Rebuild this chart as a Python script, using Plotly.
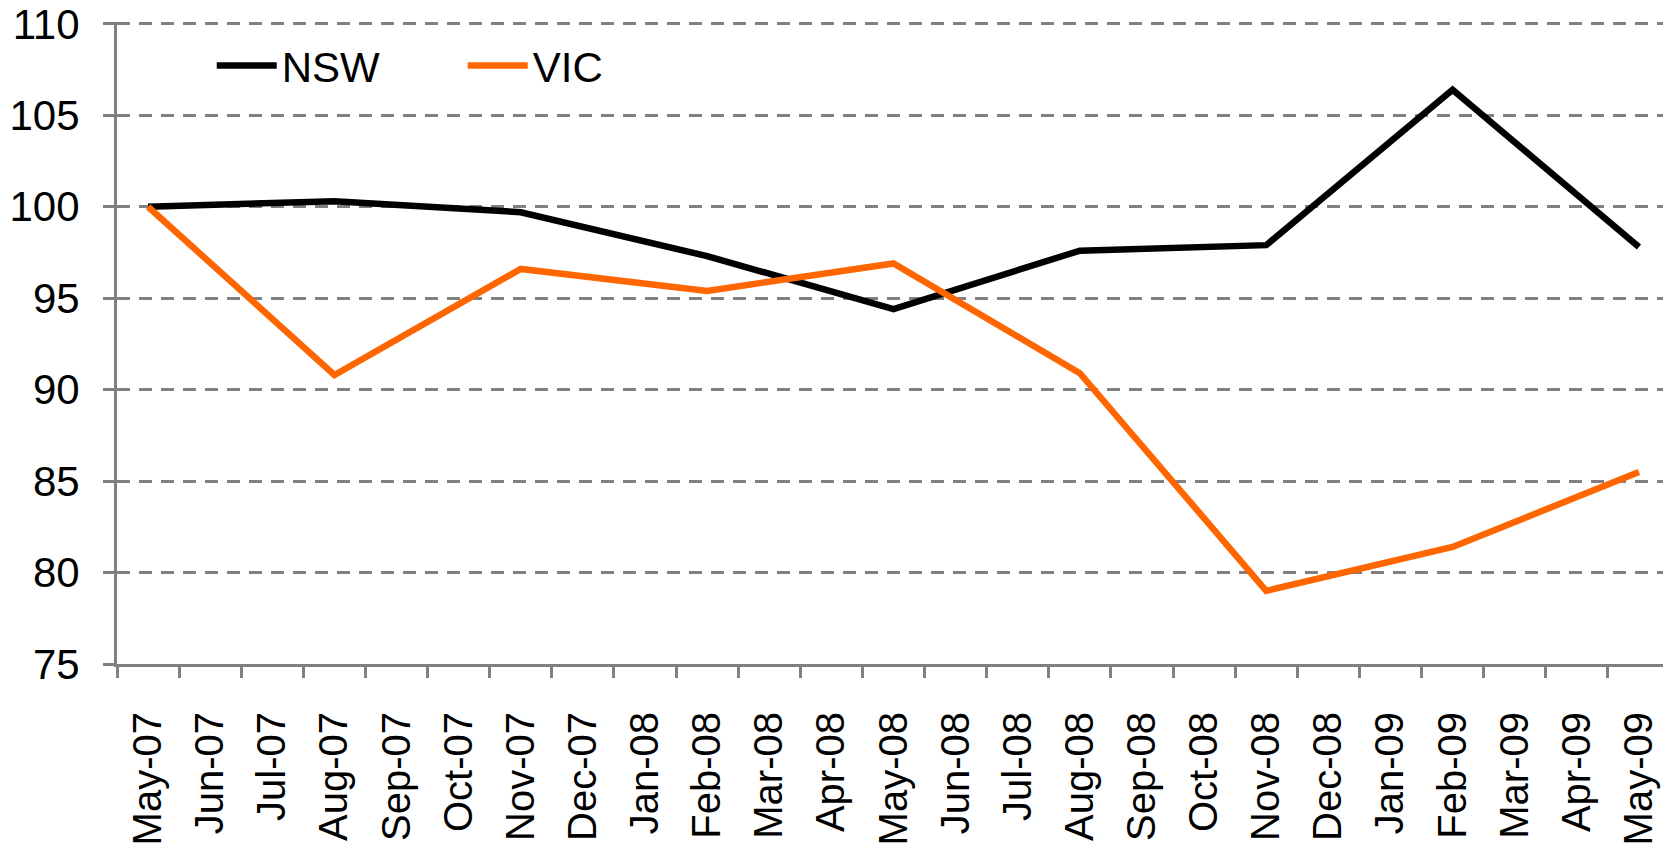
import plotly.graph_objects as go

months = ["May-07", "Jun-07", "Jul-07", "Aug-07", "Sep-07", "Oct-07", "Nov-07", "Dec-07",
          "Jan-08", "Feb-08", "Mar-08", "Apr-08", "May-08", "Jun-08", "Jul-08", "Aug-08",
          "Sep-08", "Oct-08", "Nov-08", "Dec-08", "Jan-09", "Feb-09", "Mar-09", "Apr-09", "May-09"]
quarters = ["May-07", "Aug-07", "Nov-07", "Feb-08", "May-08", "Aug-08", "Nov-08", "Feb-09", "May-09"]
nsw = [100.0, 100.3, 99.7, 97.3, 94.4, 97.6, 97.9, 106.4, 97.8]
vic = [100.0, 90.8, 96.6, 95.4, 96.9, 90.9, 79.0, 81.4, 85.5]
y_ticks = [75, 80, 85, 90, 95, 100, 105, 110]

FONT = "Liberation Sans, Arial, sans-serif"
GRAY = "#808080"

fig = go.Figure()
fig.add_trace(go.Scatter(x=quarters, y=nsw, name="NSW", mode="lines",
                         line=dict(color="#000000", width=6.5)))
fig.add_trace(go.Scatter(x=quarters, y=vic, name="VIC", mode="lines",
                         line=dict(color="#FF6600", width=6.5)))

fig.update_layout(
    width=1663, height=839,
    margin=dict(l=109, r=1, t=14, b=183, autoexpand=False),
    paper_bgcolor="white", plot_bgcolor="white",
    font=dict(family=FONT, size=42, color="black"),
    showlegend=True,
    legend=dict(orientation="h", x=0.061, y=0.985, xanchor="left", yanchor="top",
                bgcolor="rgba(0,0,0,0)", font=dict(size=42),
                entrywidth=176, entrywidthmode="pixels", itemwidth=60),
    xaxis=dict(type="category", categoryorder="array", categoryarray=months,
               tickmode="array", tickvals=months, ticktext=months,
               range=[-0.5, 24.5], tickangle=-90, tickson="boundaries",
               ticks="outside", ticklen=11, tickwidth=3, tickcolor=GRAY,
               showline=True, linecolor=GRAY, linewidth=3,
               showgrid=False, ticklabelstandoff=29, automargin=False,
               tickfont=dict(size=40, family=FONT)),
    yaxis=dict(range=[75, 110.1], tickmode="array", tickvals=y_ticks,
               ticks="outside", ticklen=11, tickwidth=3, tickcolor=GRAY,
               showline=True, linecolor=GRAY, linewidth=3,
               showgrid=True, gridcolor=GRAY, gridwidth=2.5, griddash="13px,9px",
               zeroline=False, ticklabelstandoff=15, ticklabeloverflow="allow",
               automargin=False,
               tickfont=dict(size=42, family=FONT)),
)

fig.write_html("out.html")
